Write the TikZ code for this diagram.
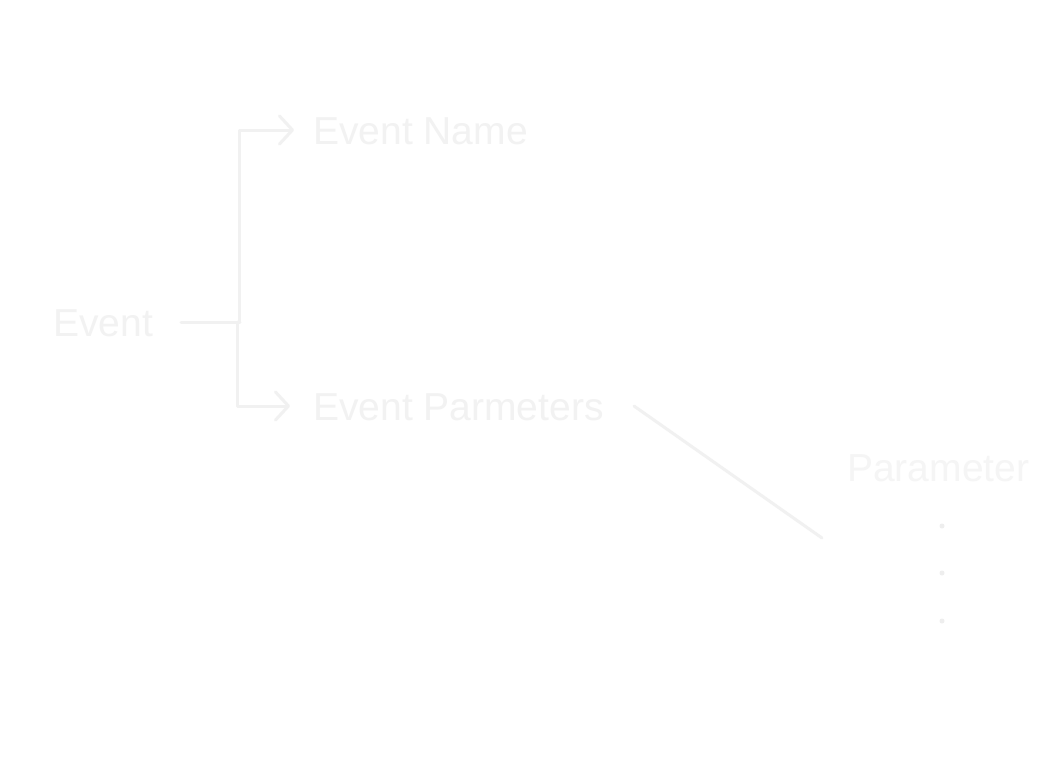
\documentclass[tikz,border=0pt]{standalone}
\usepackage{fontspec}
\setmainfont{Liberation Sans}
\usetikzlibrary{arrows.meta}
\definecolor{linec}{HTML}{F1F1F1}
\definecolor{textc}{HTML}{F2F2F2}
\definecolor{paramc}{HTML}{F5F5F5}
\definecolor{dotc}{HTML}{EEEEEE}
\begin{document}
\begin{tikzpicture}[x=1pt,y=-1pt,
  lbl/.style={anchor=base west,inner sep=0pt,font=\fontsize{39}{46}\selectfont,text=textc},
  conn/.style={draw=linec,line width=3pt,line cap=round,line join=round},
  arr/.style={conn,-{Straight Barb[length=13pt,width=28pt,round]}},
  dotm/.style={fill=dotc}]
\fill[white] (0,0) rectangle (1050,756);
\useasboundingbox (0,0) rectangle (1050,756);
\node[lbl] (ev) at (53,336) {Event};
\node[lbl] (evname) at (313,144) {Event Name};
\node[lbl] (evparam) at (313,420) {Event Parmeters};
\node[lbl,text=paramc] (param) at (847,481) {Parameter};
\coordinate (evout) at (181,322);
\coordinate (junc) at (240,322);
\coordinate (upv) at (239,322);
\coordinate (lowv) at (237,322);
\coordinate (nameIn) at (294,130);
\coordinate (paramIn) at (290,406);
\coordinate (diagA) at (634,406);
\coordinate (diagB) at (822,538);
\draw[conn] (evout) -- (junc);
\draw[arr] (upv) |- (nameIn);
\draw[arr] (lowv) |- (paramIn);
\draw[conn] (diagA) -- (diagB);
\fill[dotm] (942,526) circle (2.5);
\fill[dotm] (942,573) circle (2.5);
\fill[dotm] (942,621) circle (2.5);
\end{tikzpicture}
\end{document}
